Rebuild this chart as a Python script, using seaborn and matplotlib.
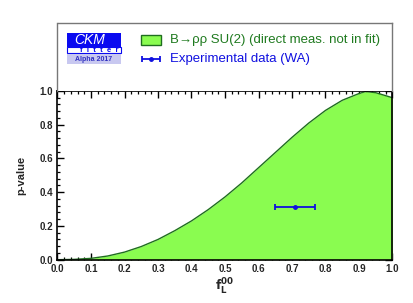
import numpy as np
import pandas as pd
import matplotlib
matplotlib.use('Agg')
import matplotlib.pyplot as plt
from matplotlib.patches import Rectangle
from matplotlib.ticker import MultipleLocator
import seaborn as sns

# Data
fL = [0.0, 0.05, 0.1, 0.15, 0.2, 0.25, 0.3, 0.35, 0.4, 0.45, 0.5, 0.55,
      0.6, 0.65, 0.7, 0.75, 0.8, 0.85, 0.9, 0.92, 0.95, 1.0]
pvalue = [0.0, 0.002, 0.008, 0.022, 0.045, 0.078, 0.12, 0.172, 0.23, 0.297,
          0.372, 0.455, 0.545, 0.635, 0.725, 0.81, 0.885, 0.945, 0.985, 0.997,
          0.99, 0.96]
exp_x = [0.71]
exp_err = [0.06]
exp_y = [0.315]

curve_label = 'B\u2192\u03c1\u03c1 SU(2) (direct meas. not in fit)'
data_label = 'Experimental data (WA)'

sns.set_theme(style='ticks')
plt.rcParams['font.family'] = ['Liberation Sans', 'DejaVu Sans']

W, H = 414, 303
fig = plt.figure(figsize=(W / 100, H / 100), dpi=100)

x0, x1, y0, y1 = 57.5, 392.5, 91, 259.7
ax = fig.add_axes([x0 / W, 1 - y1 / H, (x1 - x0) / W, (y1 - y0) / H])

df = pd.DataFrame({'fL': fL, 'p': pvalue})
fill_col = '#8afc50'
ax.fill_between(df['fL'], 0, df['p'], color=fill_col, lw=0, zorder=1)
sns.lineplot(data=df, x='fL', y='p', ax=ax, color='#1f6e1f', lw=1.0, zorder=2)
ax.errorbar(exp_x, exp_y, xerr=exp_err, fmt='o', color='#1010e0', ms=2.5,
            elinewidth=1.3, capsize=2.5, capthick=1.3, zorder=3)

ax.set_xlim(0, 1)
ax.set_ylim(0, 1)
ax.xaxis.set_major_locator(MultipleLocator(0.1))
ax.xaxis.set_minor_locator(MultipleLocator(0.02))
ax.yaxis.set_major_locator(MultipleLocator(0.2))
ax.yaxis.set_minor_locator(MultipleLocator(0.04))
ax.tick_params(which='both', direction='in', top=True, right=True, color='black')
ax.tick_params(which='major', length=5, width=1.0, labelsize=7, pad=3)
ax.tick_params(which='minor', length=2.5, width=0.9)
for lab in ax.get_xticklabels() + ax.get_yticklabels():
    lab.set_fontweight('bold')
for s in ax.spines.values():
    s.set_linewidth(1.2)
    s.set_color('black')
    s.set_zorder(5)
ax.set_xlabel('')
ax.set_ylabel('p-value', fontsize=8, fontweight='bold', labelpad=10)
fig.text(225 / W, 1 - 287 / H, r'$\mathbf{f}_{\mathbf{L}}^{\mathbf{00}}$',
         fontsize=9, ha='center', va='center')

# legend box above the axes, in pixel coordinates
lax = fig.add_axes([x0 / W, 1 - y0 / H, (x1 - x0) / W, (y0 - 22.7) / H])
lax.set_xlim(x0, x1)
lax.set_ylim(y0, 22.7)
lax.set_xticks([])
lax.set_yticks([])
for side, s in lax.spines.items():
    s.set_color('#777777')
    s.set_linewidth(1.0)
lax.spines['bottom'].set_visible(False)

# CKMfitter logo
lax.add_patch(Rectangle((67, 33.3), 53.5, 13.4, color='#0a0af0', lw=0))
lax.add_patch(Rectangle((67, 46.7), 53.5, 6.4, facecolor='white',
                        edgecolor='#0a0af0', lw=0.8))
lax.add_patch(Rectangle((67, 54.3), 53.5, 10, color='#c8c8f0', lw=0))
lax.text(74, 39.8, 'CKM', color='white', fontsize=10, style='italic',
         ha='left', va='center')
lax.text(119, 50.3, 'f  i  t  t  e  r', color='#0a0af0', fontsize=5.5,
         fontweight='bold', ha='right', va='center')
lax.text(93.5, 59.5, 'Alpha 2017', color='#3030c0', fontsize=5, fontweight='bold',
         ha='center', va='center')

# legend entries
lax.add_patch(Rectangle((141, 35), 20, 10, facecolor=fill_col,
                        edgecolor='#1f6e1f', lw=1.0))
lax.text(170, 40.5, curve_label, color='#1f7a1f', fontsize=9.5,
         ha='left', va='center')
lax.errorbar([151], [59.3], xerr=[9], fmt='o', color='#1010e0', ms=2.5,
             elinewidth=1.3, capsize=2.5, capthick=1.3)
lax.text(170, 59.3, data_label, color='#1010e0', fontsize=9.5,
         ha='left', va='center')

fig.savefig('out.png', dpi=100)
